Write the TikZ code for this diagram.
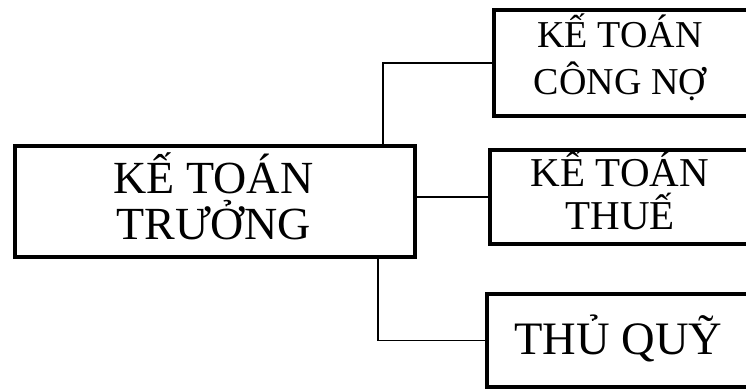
\documentclass[tikz,border=0pt]{standalone}
\usepackage{fontspec}
\setmainfont{Liberation Serif}
\begin{document}
\begin{tikzpicture}[x=1pt,y=-1pt,
  box/.style={draw=black, line width=4.5pt, fill=white, rectangle, inner sep=0pt},
  lbl/.style={inner sep=0pt, align=center},
  conn/.style={draw=black, line width=1.5pt},
  mainfont/.style={font=\fontsize{46}{46}\selectfont},
  cnfont/.style={font=\fontsize{38}{47}\selectfont},
  thfont/.style={font=\fontsize{41}{43}\selectfont},
  tqfont/.style={font=\fontsize{46.5}{46}\selectfont}]
\useasboundingbox (0,0) rectangle (746,388);
\clip (0,0) rectangle (746,388);
\fill[white] (0,0) rectangle (746,388);
\node[box, minimum width=400pt, minimum height=111pt] (main) at (215,201.5) {};
\node[box, minimum width=256pt, minimum height=106pt] (b1) at (622,63) {};
\node[box, minimum width=260pt, minimum height=94pt] (b2) at (620,197) {};
\node[box, minimum width=263pt, minimum height=93pt] (b3) at (618.5,340.5) {};
\node[lbl, mainfont] (mainT) at ([xshift=-1.5pt,yshift=5.5pt]main.center) {KẾ TOÁN\\TRƯỞNG};
\node[lbl, cnfont] (b1T) at ([xshift=-2pt,yshift=6pt]b1.center) {KẾ TOÁN\\CÔNG NỢ};
\node[lbl, thfont] (b2T) at ([yshift=7pt]b2.center) {KẾ TOÁN\\THUẾ};
\node[lbl, tqfont] (b3T) at ([yshift=2pt]b3.center) {THỦ QUỸ};
\coordinate (j1) at (383,0);
\coordinate (j2) at (378,0);
\draw[conn] (j1 |- main.north) |- (b1.west);
\draw[conn] (main.east |- b2.west) -- (b2.west);
\draw[conn] (j2 |- main.south) |- (b3.west);
\end{tikzpicture}
\end{document}
